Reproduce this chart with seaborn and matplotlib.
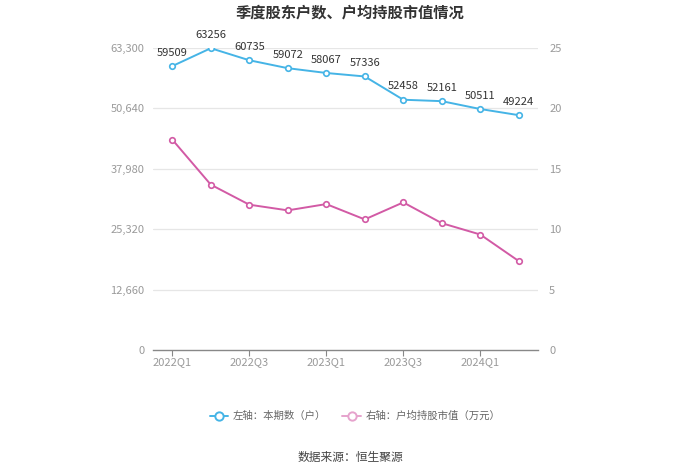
import matplotlib
matplotlib.use("Agg")
import matplotlib.pyplot as plt
import seaborn as sns
import pandas as pd
from matplotlib.lines import Line2D
from matplotlib.ticker import FixedLocator, FuncFormatter

quarters = ["2022Q1", "2022Q2", "2022Q3", "2022Q4", "2023Q1",
            "2023Q2", "2023Q3", "2023Q4", "2024Q1", "2024Q2"]
holders = [59509, 63256, 60735, 59072, 58067, 57336, 52458, 52161, 50511, 49224]
avg_value = [17.42, 13.69, 12.03, 11.56, 12.08, 10.81, 12.22, 10.50, 9.56, 7.36]
left_ticks = [0, 12660, 25320, 37980, 50640, 63300]
right_ticks = [0, 5, 10, 15, 20, 25]
shown_labels = ["2022Q1", "2022Q3", "2023Q1", "2023Q3", "2024Q1"]

title = "季度股东户数、户均持股市值情况"
legend_left = "左轴：本期数（户）"
legend_right = "右轴：户均持股市值（万元）"
source = "数据来源：恒生聚源"

sns.set_theme(style="white")
plt.rcParams['font.family'] = ['Noto Sans CJK SC', 'DejaVu Sans']

blue = "#45b4e6"
pink = "#d25aa5"
grid_c = "#e6e6e6"
tick_c = "#9a9a9a"

df = pd.DataFrame({"quarter": quarters, "holders": holders, "avg": avg_value})

fig = plt.figure(figsize=(7.0, 4.74), dpi=100)
ax = fig.add_axes([0.2186, 0.2616, 0.55, 0.6371])
ax2 = ax.twinx()

sns.lineplot(data=df, x="quarter", y="holders", ax=ax, color=blue, linewidth=1.4,
             marker="o", markersize=4, markerfacecolor="white",
             markeredgecolor=blue, markeredgewidth=1.2, zorder=3)
sns.lineplot(data=df, x="quarter", y="avg", ax=ax2, color=pink, linewidth=1.4,
             marker="o", markersize=4, markerfacecolor="white",
             markeredgecolor=pink, markeredgewidth=1.2, zorder=3)

ax.set_xlim(-0.5, len(quarters) - 0.5)
ax.set_ylim(0, left_ticks[-1])
ax2.set_ylim(0, right_ticks[-1])
ax.yaxis.set_major_locator(FixedLocator(left_ticks))
ax.yaxis.set_major_formatter(FuncFormatter(lambda v, p: f"{int(v):,}"))
ax2.yaxis.set_major_locator(FixedLocator(right_ticks))
ax2.yaxis.set_major_formatter(FuncFormatter(lambda v, p: f"{int(v)}"))

pos = [quarters.index(q) for q in shown_labels]
ax.set_xticks(pos)
ax.set_xticklabels(shown_labels)

for a in (ax, ax2):
    a.set_xlabel("")
    a.set_ylabel("")
    for s in a.spines.values():
        s.set_visible(False)
ax.spines["bottom"].set_visible(True)
ax.spines["bottom"].set_color("#888888")
ax.spines["bottom"].set_linewidth(1.0)

for t in left_ticks[1:]:
    ax.axhline(t, color=grid_c, linewidth=0.9, zorder=0)

ax.tick_params(axis="y", length=0, labelsize=8, labelcolor=tick_c, pad=6)
ax2.tick_params(axis="y", length=0, labelsize=8, labelcolor=tick_c, pad=8)
ax.tick_params(axis="x", length=4, width=0.8, color="#888888", direction="out",
               labelsize=8, labelcolor=tick_c, pad=1, bottom=True)

for i, v in enumerate(holders):
    ax.annotate(f"{v}", (i, v), xytext=(0, 6), textcoords="offset points",
                ha="center", va="bottom", fontsize=8, color="#333333")

fig.text(0.5, 0.974, title, ha="center", va="center", fontsize=11,
         fontweight="bold", color="#333333")

handles = [
    Line2D([0], [0], color=blue, linewidth=1.4, marker="o", markersize=6,
           markerfacecolor="white", markeredgecolor=blue, markeredgewidth=1.4),
    Line2D([0], [0], color="#e6a3cd", linewidth=1.4, marker="o", markersize=6,
           markerfacecolor="white", markeredgecolor="#e6a3cd", markeredgewidth=1.4),
]
leg = fig.legend(handles, [legend_left, legend_right], loc="center",
                 bbox_to_anchor=(0.507, 0.122), ncol=2, frameon=False,
                 fontsize=7.5, handlelength=1.8, columnspacing=1.6, handletextpad=0.4)
for t in leg.get_texts():
    t.set_color("#666666")

fig.text(0.5, 0.034, source, ha="center", va="center", fontsize=8.5, color="#444444")

fig.savefig("out.png", dpi=100, facecolor="white")
